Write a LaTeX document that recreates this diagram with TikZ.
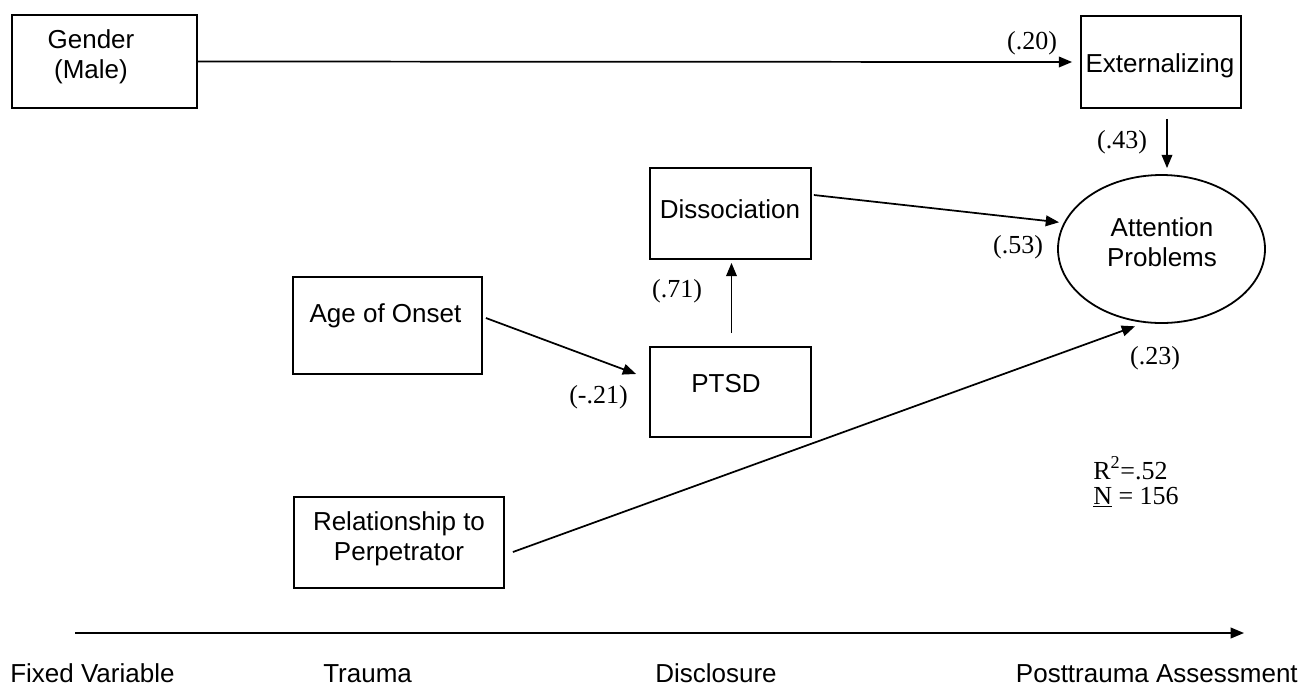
\documentclass[tikz,border=0pt]{standalone}
\usepackage{fontspec}
\setmainfont{Liberation Sans}
\newfontfamily\tnr{Liberation Serif}
\usetikzlibrary{arrows.meta,calc,shapes.geometric}
\tikzset{
  boxnode/.style={draw, line width=1.35pt, rectangle, inner sep=0pt},
  ellnode/.style={draw, line width=1.35pt, ellipse, inner sep=0pt},
  txt/.style={inner sep=0pt, align=center, font=\fontsize{19.5pt}{22.5pt}\selectfont},
  coef/.style={inner sep=0pt, font=\tnr\fontsize{19.5pt}{22.5pt}\selectfont},
  arr/.style={line width=1.3pt, -{Triangle[length=10pt,width=8pt]}}
}
\begin{document}
\begin{tikzpicture}[x=0.75pt,y=-0.75pt]
\useasboundingbox (0,0) rectangle (1300,687);
% boxes
\node[boxnode, minimum width=138.75pt, minimum height=69.75pt] (gen) at (104.5,61.5) {};
\node[txt] (genT) at (91,57) {Gender\\(Male)};
\node[boxnode, minimum width=120pt, minimum height=69pt] (ext) at (1161,62) {};
\node[txt, anchor=base] (extT) at (1160,72) {Externalizing};
\node[boxnode, minimum width=120.75pt, minimum height=68.25pt] (diss) at (730.5,213.5) {};
\node[txt, anchor=base] (dissT) at (730,218) {Dissociation};
\node[boxnode, minimum width=120.75pt, minimum height=67.5pt] (ptsd) at (730.5,392) {};
\node[txt, anchor=base] (ptsdT) at (726,392) {PTSD};
\node[boxnode, minimum width=141.75pt, minimum height=72.75pt] (age) at (387.5,325.5) {};
\node[txt, anchor=base] (ageT) at (385.5,322) {Age of Onset};
\node[boxnode, minimum width=157.5pt, minimum height=68.25pt] (rel) at (399,542.5) {};
\node[txt] (relT) at (399,539) {Relationship to\\Perpetrator};
\node[ellnode, minimum width=155.25pt, minimum height=111pt] (att) at (1161.5,249) {};
\node[txt] (attT) at (1162,242.5) {Attention\\Problems};
% connectors
\draw[arr, shorten >=6pt] (gen.east) -- (ext.west);
\draw[arr] ($(ext.south)+(6,10)$) -- ($(att.north)+(5.5,-6)$);
\draw[arr, shorten >=3.5pt] ($(diss.east)+(2,-18.5)$) -- (att.165);
\draw[arr] ($(ptsd.north)+(1,-13)$) -- ($(diss.south)+(1,3)$);
\draw[arr] ($(age.east)+(3,-7.5)$) -- ($(ptsd.west)+(-13,-18)$);
\draw[arr, shorten >=7.5pt] ($(rel.east)+(8,9.5)$) -- (att.257);
% coefficients
\node[coef] (c20) at (1032,43) {(.20)};
\node[coef] (c43) at (1122,142) {(.43)};
\node[coef] (c53) at (1018,247) {(.53)};
\node[coef] (c71) at (677,291) {(.71)};
\node[coef] (c21) at (598.5,397) {(-.21)};
\node[coef] (c23) at (1155,358) {(.23)};
\node[coef, anchor=base west] (r2) at (1093,479) {R\textsuperscript{2}=.52};
\node[coef, anchor=base west] (nn) at (1093,504) {\underline{N} = 156};
% timeline
\coordinate (tl0) at (75,633);
\coordinate (tl1) at (1244,633);
\draw[arr] (tl0) -- (tl1);
\node[txt, anchor=base west] (t1) at (10,682) {Fixed Variable};
\node[txt, anchor=base west] (t2) at (323,682) {Trauma};
\node[txt, anchor=base west] (t3) at (655,682) {Disclosure};
\node[txt, anchor=base east] (t4) at (1298,682) {Posttrauma Assessment};
\end{tikzpicture}
\end{document}
